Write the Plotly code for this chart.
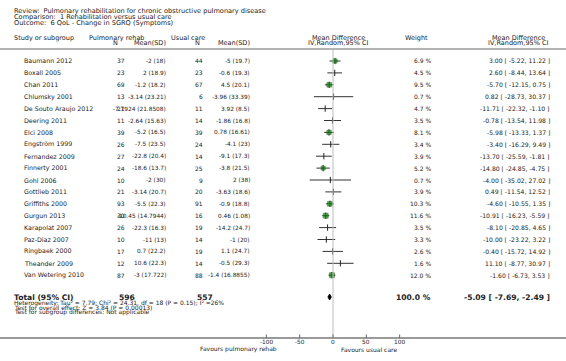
import plotly.graph_objects as go

studies = ["Baumann 2012", "Boxall 2005", "Chan 2011", "Chlumsky 2001", "De Souto Araujo 2012",
           "Deering 2011", "Elci 2008", "Engström 1999", "Fernandez 2009", "Finnerty 2001",
           "Gohl 2006", "Gottlieb 2011", "Griffiths 2000", "Gurgun 2013", "Karapolat 2007",
           "Paz-Diaz 2007", "Ringbaek 2000", "Theander 2009", "Van Wetering 2010"]
rehab_n = [37, 23, 69, 13, 21, 11, 39, 26, 27, 24, 10, 21, 93, 30, 26, 10, 17, 12, 87]
rehab_mean = [-2, 2, -1.2, -3.14, -7.7924, -2.64, -5.2, -7.5, -22.8, -18.6, -2, -3.14, -5.5, -10.45, -22.3, -11, 0.7, 10.6, -3]
rehab_sd = [18, 18.9, 18.2, 23.21, 21.8508, 15.63, 16.5, 23.5, 20.4, 13.7, 30, 20.7, 22.3, 14.7944, 16.3, 13, 22.2, 22.3, 17.722]
usual_n = [44, 23, 67, 6, 11, 14, 39, 24, 14, 25, 9, 20, 91, 16, 19, 14, 19, 14, 88]
usual_mean = [-5, -0.6, 4.5, -3.96, 3.92, -1.86, 0.78, -4.1, -9.1, -3.8, 2, -3.63, -0.9, 0.46, -14.2, -1, 1.1, -0.5, -1.4]
usual_sd = [19.7, 19.3, 20.1, 33.39, 8.5, 16.8, 16.61, 23, 17.3, 21.5, 38, 18.6, 18.8, 1.08, 24.7, 20, 24.7, 29.3, 16.8855]
weight = [6.9, 4.5, 9.5, 0.7, 4.7, 3.5, 8.1, 3.4, 3.9, 5.2, 0.7, 3.9, 10.3, 11.6, 3.5, 3.3, 2.6, 1.6, 12.0]
md = [3.00, 2.60, -5.70, 0.82, -11.71, -0.78, -5.98, -3.40, -13.70, -14.80, -4.00, 0.49, -4.60, -10.91, -8.10, -10.00, -0.40, 11.10, -1.60]
ci_lo = [-5.22, -8.44, -12.15, -28.73, -22.32, -13.54, -13.33, -16.29, -25.59, -24.85, -35.02, -11.54, -10.55, -16.23, -20.85, -23.22, -15.72, -8.77, -6.73]
ci_hi = [11.22, 13.64, 0.75, 30.37, -1.10, 11.98, 1.37, 9.49, -1.81, -4.75, 27.02, 12.52, 1.35, -5.59, 4.65, 3.22, 14.92, 30.97, 3.53]
total_rehab_n = 596
total_usual_n = 557
total_weight = 100.0
total_md, total_lo, total_hi = -5.09, -7.69, -2.49
axis_ticks = [-100, -50, 0, 50, 100]

W, H = 566, 361
FONT = "DejaVu Sans"
TXT = "#222222"

def X(px):
    return px / W

def Y(py):
    return 1 - py / H

anns = []

def ann(text, x, y, anchor="left", size=6.2, bold=False, color=TXT):
    if bold:
        text = "<b>" + text + "</b>"
    anns.append(dict(text=text, x=X(x), y=Y(y), xref="paper", yref="paper",
                     xanchor=anchor, yanchor="middle", showarrow=False,
                     font=dict(family=FONT, size=size, color=color), borderpad=0))

def fmt(v):
    return f"{v:g}"

# header texts
ann("Review:  Pulmonary rehabilitation for chronic obstructive pulmonary disease", 13, 11, size=6.6)
ann("Comparison:  1 Rehabilitation versus usual care", 13, 17, size=6.6)
ann("Outcome:  6 QoL - Change in SGRQ (Symptoms)", 13, 23, size=6.6)

ann("Study or subgroup", 13, 38, size=6.5)
ann("Pulmonary rehab", 88, 38, size=6.5)
ann("N", 115, 43.5, anchor="center", size=6.5)
ann("Mean(SD)", 167, 43.5, anchor="right", size=6.5)
ann("Usual care", 170, 38, size=6.5)
ann("N", 197, 43.5, anchor="center", size=6.5)
ann("Mean(SD)", 251, 43.5, anchor="right", size=6.5)
ann("Mean Difference", 338, 37.5, anchor="center", size=6.5)
ann("IV,Random,95% CI", 338, 43, anchor="center", size=6.5)
ann("Weight", 416, 38, anchor="center", size=6.5)
ann("Mean Difference", 518, 37.5, anchor="center", size=6.5)
ann("IV,Random,95% CI", 518, 43, anchor="center", size=6.5)

row_y = [61 + i * 11.9 for i in range(len(studies))]

for i, s in enumerate(studies):
    y = row_y[i]
    ann(s, 23, y, size=6.3)
    ann(str(rehab_n[i]), 126, y, anchor="right", size=6.0)
    ann(f"{fmt(rehab_mean[i])} ({fmt(rehab_sd[i])})", 167, y, anchor="right", size=5.8)
    ann(str(usual_n[i]), 204, y, anchor="right", size=6.0)
    ann(f"{fmt(usual_mean[i])} ({fmt(usual_sd[i])})", 251, y, anchor="right", size=5.8)
    ann(f"{weight[i]:.1f} %", 432, y, anchor="right", size=6.0)
    ann(f"{md[i]:.2f} [ {ci_lo[i]:.2f}, {ci_hi[i]:.2f} ]", 551, y, anchor="right", size=6.1)

ty = 297
ann("Total (95% CI)", 13, ty, size=7.6, bold=True)
ann(str(total_rehab_n), 118, ty, size=7.6, bold=True)
ann(str(total_usual_n), 196, ty, size=7.6, bold=True)
ann(f"{total_weight:.1f} %", 432, ty, anchor="right", size=7.6, bold=True)
ann(f"{total_md:.2f} [ {total_lo:.2f}, {total_hi:.2f} ]", 551, ty, anchor="right", size=7.6, bold=True)

ann("Heterogeneity: Tau² = 7.79; Chi² = 24.31, df = 18 (P = 0.15); I² =26%", 13, 302.5, size=6.0)
ann("Test for overall effect: Z = 3.84 (P = 0.00013)", 13, 307.2, size=6.0)
ann("Test for subgroup differences: Not applicable", 13, 311.9, size=6.0)

# axis
x0px = 333.0
k = 33.33 / 50.0
xr = [-x0px / k, (W - x0px) / k]

for t in axis_ticks:
    ann(f"{t}", x0px + t * k, 342, anchor="center", size=5.8)
ann("Favours pulmonary rehab", 278, 349, anchor="right", size=6.0)
ann("Favours usual care", 340, 349, anchor="left", size=6.0)

shapes = []
shapes.append(dict(type="line", xref="paper", yref="paper", x0=0, x1=1, y0=Y(49), y1=Y(49),
                   line=dict(color="#9a9a9a", width=1.5)))
shapes.append(dict(type="line", xref="paper", yref="paper", x0=0, x1=1, y0=Y(338), y1=Y(338),
                   line=dict(color="#9a9a9a", width=2)))
shapes.append(dict(type="line", xref="x", yref="y", x0=0, x1=0, y0=49, y1=338,
                   line=dict(color="#bdbdbd", width=1)))
for t in axis_ticks:
    shapes.append(dict(type="line", xref="x", yref="y", x0=t, x1=t, y0=334.5, y1=338,
                       line=dict(color="#666666", width=1)))

fig = go.Figure()

# CI lines
lx, ly = [], []
for i in range(len(studies)):
    lx += [ci_lo[i], ci_hi[i], None]
    ly += [row_y[i], row_y[i], None]
fig.add_trace(go.Scatter(x=lx, y=ly, mode="lines", line=dict(color="#333333", width=1),
                         hoverinfo="skip"))
# point ticks
fig.add_trace(go.Scatter(x=md, y=row_y, mode="markers",
                         marker=dict(symbol="line-ns", size=4.5, line=dict(color="#222222", width=1)),
                         hoverinfo="skip"))
# weighted squares
sx, sy, ss = [], [], []
for i in range(len(studies)):
    if weight[i] >= 5:
        sx.append(md[i]); sy.append(row_y[i]); ss.append(3.2 + 0.15 * weight[i])
fig.add_trace(go.Scatter(x=sx, y=sy, mode="markers",
                         marker=dict(symbol="square", size=ss, color="#008a00",
                                     line=dict(color="#0a3a0a", width=0.6)),
                         hoverinfo="skip"))
# diamond
fig.add_trace(go.Scatter(x=[total_lo, total_md, total_hi, total_md, total_lo],
                         y=[ty, ty - 3, ty, ty + 3, ty], mode="lines", fill="toself",
                         fillcolor="#000000", line=dict(color="#000000", width=0.8),
                         hoverinfo="skip"))

fig.update_layout(
    width=W, height=H, margin=dict(l=0, r=0, t=0, b=0),
    paper_bgcolor="white", plot_bgcolor="white", showlegend=False,
    xaxis=dict(range=xr, domain=[0, 1], visible=False, fixedrange=True),
    yaxis=dict(range=[H, 0], domain=[0, 1], visible=False, fixedrange=True),
    annotations=anns, shapes=shapes,
)

fig.write_html("out.html", config={"displayModeBar": False},
               post_script="document.body.style.margin='0';document.body.style.padding='0';document.body.style.overflow='hidden';")
